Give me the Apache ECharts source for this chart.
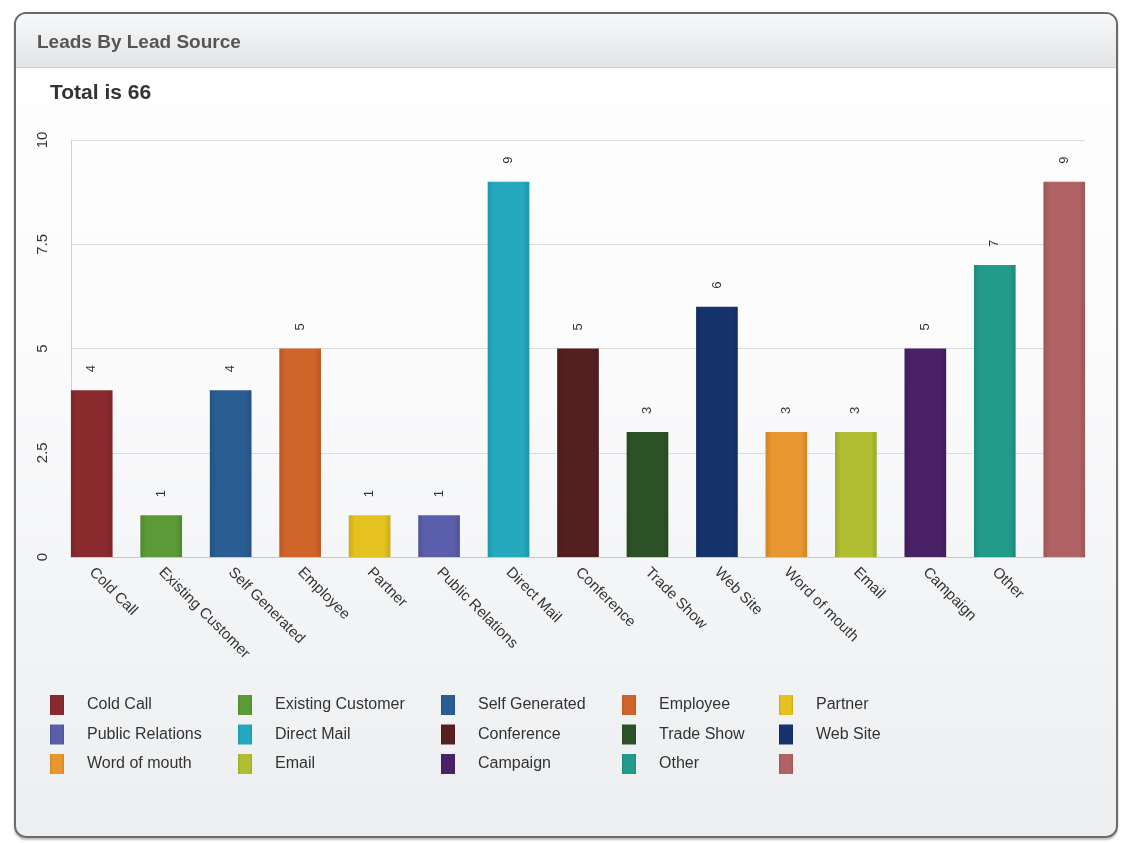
<!DOCTYPE html>
<html>
<head>
<meta charset="utf-8">
<script src="https://cdn.jsdelivr.net/npm/echarts@6/dist/echarts.min.js"></script>
<style>
  html, body { margin: 0; padding: 0; background: #ffffff; }
  #frame {
    position: absolute; left: 14px; top: 12px; width: 1100px; height: 822px;
    border: 2px solid #6a6a6a; border-radius: 12px;
    background: linear-gradient(#ffffff 0%, #fbfbfc 40%, #eceef0 100%);
    box-shadow: 0 2px 2px rgba(0,0,0,0.25);
    overflow: hidden;
  }
  #header {
    position: absolute; left: 0; top: 0; right: 0; height: 53px;
    background: linear-gradient(#f7f8f9, #e2e4e6);
    border-bottom: 1px solid #c3cfd9;
  }
  #chart { position: absolute; left: 0; top: 0; width: 1124px; height: 843px; }
</style>
</head>
<body>
<div id="frame"><div id="header"></div></div>
<div id="chart"></div>
<script>
// ---- data ----
const categories = ['Cold Call', 'Existing Customer', 'Self Generated', 'Employee', 'Partner',
  'Public Relations', 'Direct Mail', 'Conference', 'Trade Show', 'Web Site',
  'Word of mouth', 'Email', 'Campaign', 'Other', ''];
const seriesNames = ['Cold Call', 'Existing Customer', 'Self Generated', 'Employee', 'Partner',
  'Public Relations', 'Direct Mail', 'Conference', 'Trade Show', 'Web Site',
  'Word of mouth', 'Email', 'Campaign', 'Other', ' '];
const values = [4, 1, 4, 5, 1, 1, 9, 5, 3, 6, 3, 3, 5, 7, 9];
const colors = ['#8a2a2d', '#5b9a36', '#2a5d91', '#d0652a', '#e5c21f',
  '#5b5eab', '#24a9bf', '#561f1f', '#2e5227', '#17336e',
  '#e8962f', '#b2be31', '#4a2067', '#229b8b', '#b06265'];
const yTicks = { min: 0, max: 10, interval: 2.5 };
const legendColumns = [
  ['Cold Call', 'Public Relations', 'Word of mouth'],
  ['Existing Customer', 'Direct Mail', 'Email'],
  ['Self Generated', 'Conference', 'Campaign'],
  ['Employee', 'Trade Show', 'Other'],
  ['Partner', 'Web Site', ' ']
];
const legendLefts = [50, 238, 441, 622, 779];

const total = values.reduce((a, b) => a + b, 0);
const FONT = '"Liberation Sans", Arial, Helvetica, sans-serif';

const chart = echarts.init(document.getElementById('chart'));

function shade(hex, f) {
  const n = parseInt(hex.slice(1), 16);
  let r = (n >> 16) & 255, g = (n >> 8) & 255, b = n & 255;
  r = Math.round(r * f); g = Math.round(g * f); b = Math.round(b * f);
  return 'rgb(' + Math.min(255, r) + ',' + Math.min(255, g) + ',' + Math.min(255, b) + ')';
}

const series = seriesNames.map((name, i) => ({
  name: name,
  type: 'bar',
  xAxisIndex: 1,
  yAxisIndex: 1,
  stack: 'all',
  barWidth: '60%',
  data: values.map((v, j) => (j === i ? v : '-')),
  itemStyle: {
    color: new echarts.graphic.LinearGradient(0, 0, 1, 0, [
      { offset: 0, color: shade(colors[i], 0.88) },
      { offset: 0.15, color: colors[i] },
      { offset: 0.85, color: colors[i] },
      { offset: 1, color: shade(colors[i], 0.88) }
    ])
  },
  label: {
    show: true,
    position: 'top',
    rotate: 90,
    align: 'left',
    verticalAlign: 'middle',
    distance: 18,
    color: '#333',
    fontSize: 13,
    fontFamily: FONT
  }
}));

const legends = legendColumns.map((col, k) => ({
  orient: 'vertical',
  left: legendLefts[k],
  top: 695,
  itemWidth: 14,
  itemHeight: 20,
  itemGap: 9.5,
  icon: 'rect',
  selectedMode: false,
  padding: 0,
  data: col,
  textStyle: { color: '#333', fontSize: 16, fontFamily: FONT, padding: [0, 0, 0, 18] }
}));

chart.setOption({
  color: colors,
  animation: false,
  title: [
    { text: 'Leads By Lead Source', left: 37, top: 33, padding: 0,
      textStyle: { fontSize: 19, fontWeight: 'bold', color: '#555', fontFamily: FONT } },
    { text: 'Total is ' + total, left: 50, top: 83, padding: 0,
      textStyle: { fontSize: 21, fontWeight: 'bold', color: '#333', fontFamily: FONT } }
  ],
  legend: legends,
  grid: [
    { left: 71, right: 39, top: 140, bottom: 286 },
    { left: 57, right: 25, top: 140, bottom: 286 }
  ],
  xAxis: [
    { gridIndex: 0, type: 'category', data: [''],
      axisLine: { show: true, lineStyle: { color: '#c8c8c8' } },
      axisTick: { show: false }, axisLabel: { show: false } },
    { gridIndex: 1, type: 'category', data: categories,
      axisLine: { show: false }, axisTick: { show: false },
      axisLabel: { rotate: -45, margin: 13, interval: 0, color: '#333', fontSize: 15, fontFamily: FONT } }
  ],
  yAxis: [
    { gridIndex: 0, type: 'value', min: yTicks.min, max: yTicks.max, interval: yTicks.interval,
      axisLine: { show: true, lineStyle: { color: '#d0d0d0' } },
      axisTick: { show: false },
      splitLine: { lineStyle: { color: '#dcdcdc' } },
      axisLabel: { rotate: 90, margin: 21, color: '#333', fontSize: 15, fontFamily: FONT } },
    { gridIndex: 1, type: 'value', min: yTicks.min, max: yTicks.max, interval: yTicks.interval,
      show: false }
  ],
  series: series
});
</script>
</body>
</html>
